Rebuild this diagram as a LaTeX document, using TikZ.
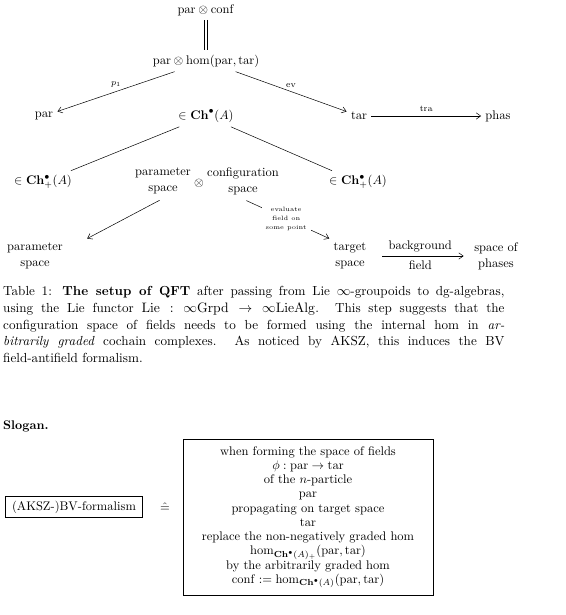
\documentclass[tikz,border=0pt]{standalone}
\usepackage{amsmath}
\usepackage{amssymb}
\usetikzlibrary{arrows.meta}

\begin{document}
\begin{tikzpicture}[
  x=0.8pt,
  y=-0.8pt,
  every node/.style={font=\normalsize},
  arr/.style={line width=0.4pt, -{Straight Barb[length=3.5pt,width=5pt]}},
  plainln/.style={line width=0.4pt},
  maplbl/.style={font=\scriptsize},
  twoline/.style={align=center, font=\fontsize{10pt}{12.8pt}\selectfont},
  boxed/.style={draw, line width=0.5pt}
]
  \useasboundingbox (0,0) rectangle (565,615);

  % ---- upper square: the internal hom and its maps ----
  \node (top)  at (206,10)  {$\mathrm{par}\otimes\mathrm{conf}$};
  \node (hom)  at (206,61)  {$\mathrm{par}\otimes\mathrm{hom}(\mathrm{par},\mathrm{tar})$};
  \node (par)  at (44,116)  {$\mathrm{par}$};
  \node (ch)   at (206,116) {$\in\mathbf{Ch}^\bullet(A)$};
  \node (tar)  at (359,116) {$\mathrm{tar}$};
  \node (phas) at (498,116) {$\mathrm{phas}$};

  \draw[plainln, double, double distance=1.7pt] (top) -- (hom);
  \draw[arr] (hom) -- node[maplbl, above] {$p_1$} (par);
  \draw[arr] (hom) -- node[maplbl, above] {$\mathrm{ev}$} (tar);
  \draw[arr] (tar) -- node[maplbl, above] {$\mathrm{tra}$} (phas);

  % ---- the two gradings ----
  \node (chl) at (43,182)  {$\in\mathbf{Ch}^\bullet_+(A)$};
  \node (chr) at (358,182) {$\in\mathbf{Ch}^\bullet_+(A)$};
  \draw[plainln] (ch) -- (chl);
  \draw[plainln] (ch) -- (chr);

  % ---- lower square, in words ----
  \node[twoline] (parsp)  at (163,181) {parameter\\space};
  \node          (tensor) at (199,183) {$\otimes$};
  \node[twoline] (confsp) at (243,181) {configuration\\space};
  \node[twoline] (parspace) at (35,256)  {parameter\\space};
  \node[twoline] (tarspace) at (350,256) {target\\space};
  \node[twoline] (phspace)  at (496,256) {space of\\phases};

  \draw[arr, shorten <=3pt] (parsp.south) -- ([xshift=16pt]parspace.north east);
  \draw[arr, shorten <=3pt] (confsp.south) --
    node[fill=white, align=center, font=\fontsize{5pt}{7.2pt}\selectfont]
      {evaluate\\field on\\some point} (tarspace.north west);
  \draw[arr, shorten <=9pt, shorten >=5pt] (tarspace) --
    node[above] {background} node[below] {field} (phspace);

  % ---- caption ----
  \node[anchor=north west, inner sep=0pt, text width=401pt, align=justify,
        font=\fontsize{10.5pt}{13.4pt}\selectfont] (caption) at (3,286)
    {Table 1: \textbf{The setup of QFT} after passing from Lie $\infty$-groupoids
     to dg-algebras,\linebreak using the Lie functor
     $\mathrm{Lie} : \infty\mathrm{Grpd} \to \infty\mathrm{LieAlg}$. This step
     suggests that the\linebreak configuration space of fields needs to be formed
     using the internal hom in \emph{ar-}\linebreak\emph{bitrarily graded}
     cochain complexes. As noticed by AKSZ, this induces the BV\linebreak
     field-antifield formalism.};

  % ---- slogan ----
  \node[anchor=west, inner sep=0pt, font=\bfseries] (slogan) at (3,426) {Slogan.};
  \node[boxed, inner xsep=5pt] (bvbox) at (74,507) {(AKSZ-)BV-formalism};
  \node (hateq) at (165,507) {$\hat{=}$};
  \node[boxed, align=center, minimum width=200pt, minimum height=125pt,
        font=\fontsize{10pt}{11.4pt}\selectfont] (slogbox) at (308,517)
    {when forming the space of fields\\
     $\phi : \mathrm{par} \to \mathrm{tar}$\\
     of the $n$-particle\\
     par\\
     propagating on target space\\
     tar\\
     replace the non-negatively graded hom\\
     $\mathrm{hom}_{\mathbf{Ch}^\bullet(A)_+}(\mathrm{par},\mathrm{tar})$\\
     by the arbitrarily graded hom\\
     $\mathrm{conf} := \mathrm{hom}_{\mathbf{Ch}^\bullet(A)}(\mathrm{par},\mathrm{tar})$};
\end{tikzpicture}
\end{document}
